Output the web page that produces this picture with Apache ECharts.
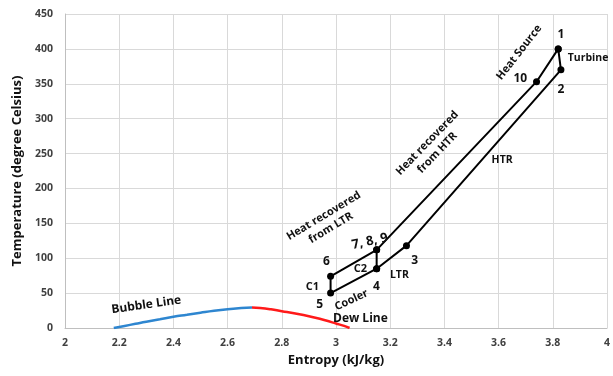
<!DOCTYPE html>
<html><head><meta charset="utf-8">
<script src="https://cdn.jsdelivr.net/npm/echarts@6/dist/echarts.min.js"></script>
<style>html,body{margin:0;padding:0;background:#fff}#c{width:613px;height:376px}</style>
</head><body><div id="c"></div>
<script>
// Cycle state points: [entropy, temperature]
const stateNames = ['1','2','3','4','5','6','7','10'];
const stateS = [3.82, 3.83, 3.26, 3.15, 2.98, 2.98, 3.15, 3.74];
const stateT = [400, 370, 118, 85, 50, 74, 112, 353];
// path order through the states
const cyclePath = ['1','2','3','4','5','6','7','10','1'];
const c2Path = ['4','7'];
// saturation dome
const bubbleS = [2.18, 2.22, 2.26, 2.3, 2.35, 2.4, 2.45, 2.5, 2.55, 2.6, 2.65, 2.69];
const bubbleT = [0, 3, 6, 9, 12.5, 16, 19, 22, 24.8, 27, 28.6, 29.5];
const dewS = [2.69, 2.72, 2.76, 2.8, 2.84, 2.88, 2.92, 2.96, 3.0, 3.03, 3.05];
const dewT = [29.5, 28.8, 26.8, 24, 21.5, 18.5, 15, 11, 6.5, 3, 0];
// annotations
const annText = ['1','Turbine','10','2','Heat Source','Heat recovered\nfrom HTR','HTR','3','LTR','4','Cooler','5','C1','6','C2','7, 8, 9','Heat recovered\nfrom LTR','Bubble Line','Dew Line'];
const annS = [3.83, 3.93, 3.68, 3.83, 3.676, 3.355, 3.613, 3.29, 3.234, 3.149, 3.057, 2.94, 2.913, 2.965, 3.09, 3.125, 2.968, 2.30, 3.09];
const annT = [420, 387, 358, 341, 395, 258, 241, 97, 76, 59, 40, 33, 59, 94.5, 84.5, 124, 152, 33, 14];
const annRot = [0, 0, 0, 0, 52, 46, 0, 0, 0, 0, 25, 0, 0, 0, 0, 12, 31, 8, 0];
const annSize = [12, 10.5, 12, 12, 11, 11, 10.5, 12, 10.5, 12, 11, 12, 11, 12, 11, 13, 11, 12, 12];

const idx = n => stateNames.indexOf(n);
const pt = n => [stateS[idx(n)], stateT[idx(n)]];
const FONT = 'Open Sans';
const chart = echarts.init(document.getElementById('c'));
chart.setOption({
  animation: false,
  textStyle: {fontFamily: FONT},
  grid: {left: 65, right: 5, top: 14, bottom: 48},
  xAxis: {
    type: 'value', min: 2, max: 4, interval: 0.2,
    name: 'Entropy (kJ/kg)', nameLocation: 'middle', nameGap: 26,
    nameTextStyle: {fontFamily: FONT, fontWeight: 'bold', fontSize: 13, color: '#111'},
    axisLine: {show: true, lineStyle: {color: '#bfbfbf'}},
    axisTick: {show: false},
    axisLabel: {fontFamily: FONT, fontWeight: 'bold', fontSize: 10.5, color: '#404040', margin: 10,
      formatter: v => String(Math.round(v * 10) / 10)},
    splitLine: {show: true, lineStyle: {color: '#d9d9d9'}}
  },
  yAxis: {
    type: 'value', min: 0, max: 450, interval: 50,
    name: 'Temperature (degree Celsius)', nameLocation: 'middle', nameGap: 40, nameRotate: 90,
    nameTextStyle: {fontFamily: FONT, fontWeight: 'bold', fontSize: 13, color: '#111'},
    axisLine: {show: true, lineStyle: {color: '#bfbfbf'}},
    axisTick: {show: false},
    axisLabel: {fontFamily: FONT, fontWeight: 'bold', fontSize: 10.5, color: '#404040', margin: 12},
    splitLine: {show: true, lineStyle: {color: '#d9d9d9'}}
  },
  series: [
    {type: 'line', data: bubbleS.map((s, i) => [s, bubbleT[i]]), smooth: true, symbol: 'none',
      lineStyle: {color: '#2e86d0', width: 2.5}},
    {type: 'line', data: dewS.map((s, i) => [s, dewT[i]]), smooth: true, symbol: 'none',
      lineStyle: {color: '#ff1a1a', width: 2.5}},
    {type: 'line', data: cyclePath.map(pt), symbol: 'circle', symbolSize: 7,
      lineStyle: {color: '#000', width: 2}, itemStyle: {color: '#000'}},
    {type: 'line', data: c2Path.map(pt), symbol: 'circle', symbolSize: 7,
      lineStyle: {color: '#000', width: 2}, itemStyle: {color: '#000'}},
    {type: 'scatter', symbolSize: 0.1, itemStyle: {color: '#fff', opacity: 1}, z: 10,
      data: annText.map((t, i) => ({
        value: [annS[i], annT[i]],
        label: {show: true, position: 'inside', formatter: t, rotate: annRot[i],
          fontFamily: FONT, fontWeight: 'bold', fontSize: annSize[i], color: '#111',
          textBorderWidth: 0, lineHeight: annSize[i] + 3, align: 'center', verticalAlign: 'middle'}
      }))}
  ]
});
</script></body></html>
